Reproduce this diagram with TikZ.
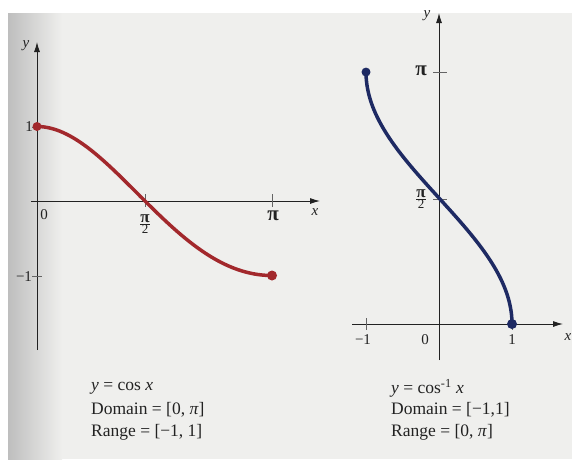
\documentclass[tikz,border=0pt]{standalone}
\usepackage{fontspec}
\setmainfont{Liberation Serif}
\usetikzlibrary{arrows.meta}
\definecolor{cred}{HTML}{A2282C}
\definecolor{cnavy}{HTML}{1E2A63}
\definecolor{cpaper}{HTML}{EFEFED}
\definecolor{cedge}{HTML}{BEBEBE}
\definecolor{cink}{HTML}{222222}
\newcommand{\bigpi}{{\fontsize{21}{21}\selectfont\bfseries π}}
\newcommand{\halfpi}{$\frac{\hbox{\fontsize{17}{17}\selectfont\bfseries π}}{\hbox{2}}$}
\tikzset{
  every picture/.style={font=\fontsize{15}{17}\selectfont},
  axis/.style={-{Latex[length=10pt,width=6pt]}, line width=0.9pt, draw=cink},
  tick/.style={line width=0.6pt, draw=cink!70},
  curve/.style={line width=3.5pt, draw=#1, line cap=round},
  lbl/.style={inner sep=1pt, text=cink},
  frac/.style={lbl, font=\fontsize{13}{14}\selectfont},
  caption/.style={font=\fontsize{17.5}{20}\selectfont, anchor=west, inner sep=0pt, text=cink},
}
\begin{document}
\begin{tikzpicture}[x=1pt, y=-1pt]
  \useasboundingbox (0,0) rectangle (572,459);
  % scanned page
  \fill[cpaper] (0,0) rectangle (572,459);
  \fill[white] (0,0) rectangle (572,13);
  \fill[white] (0,13) rectangle (8,459);
  \shade[left color=cedge, right color=cpaper] (8,13) rectangle (62,459);

  % y = cos x (left)
  \draw[axis] (31,201) -- (320,201);
  \draw[axis] (37,350) -- (37,42);
  \foreach \px in {145,272} \draw[tick] (\px,194) -- (\px,207);
  \foreach \py in {127,276} \draw[tick] (32,\py) -- (42,\py);
  \begin{scope}[shift={(37pt,-201pt)}, y=74.5pt]
    \draw[curve=cred] plot[domain=0:pi, samples=80, smooth] ({62.7*\x+3.85*\x*\x},{cos(\x r)});
    \fill[cred] (0,1) circle[radius=4.5pt] (235,-1) circle[radius=5pt];
  \end{scope}
  \node[lbl] (cy) at (26,46) {\textit{y}};
  \node[lbl] (cx) at (315,212) {\textit{x}};
  \node[lbl] (cone) at (29,127) {1};
  \node[lbl] (cmone) at (24,277) {−1};
  \node[lbl] (czero) at (44,215) {0};
  \node[frac] (chalf) at (145,224) {\halfpi};
  \node[lbl] (cpi) at (273,216) {\bigpi};

  % y = cos^-1 x (right)
  \draw[axis] (352,324) -- (563,324);
  \draw[axis] (439,360) -- (439,13);
  \foreach \px in {366,512} \draw[tick] (\px,318) -- (\px,330);
  \foreach \py in {72,199} \draw[tick] (433,\py) -- (447,\py);
  \begin{scope}[shift={(439pt,-324pt)}, x=73pt, y=80.2pt]
    \draw[curve=cnavy] plot[domain=0:pi, samples=80, smooth] ({cos(\x r)},\x);
    \fill[cnavy] (-1,pi) circle[radius=4.5pt] (1,0) circle[radius=5pt];
  \end{scope}
  \node[lbl] (ay) at (427,16) {\textit{y}};
  \node[lbl] (ax) at (568,337) {\textit{x}};
  \node[lbl] (api) at (421,71) {\bigpi};
  \node[frac] (ahalf) at (421,199) {\halfpi};
  \node[lbl] (amone) at (363,340) {−1};
  \node[lbl] (azero) at (425,340) {0};
  \node[lbl] (aone) at (512,340) {1};

  % captions
  \foreach \t [count=\i] in {{\textit{y} = cos \textit{x}}, {Domain = [0, \textit{π}]}, {Range = [−1, 1]}}
    \node[caption] (ccap\i) at (91,366+22*\i) {\t};
  \foreach \t [count=\i] in {{\textit{y} = cos\textsuperscript{-1} \textit{x}}, {Domain = [−1,1]}, {Range = [0, \textit{π}]}}
    \node[caption] (acap\i) at (391,366+22*\i) {\t};
\end{tikzpicture}
\end{document}
